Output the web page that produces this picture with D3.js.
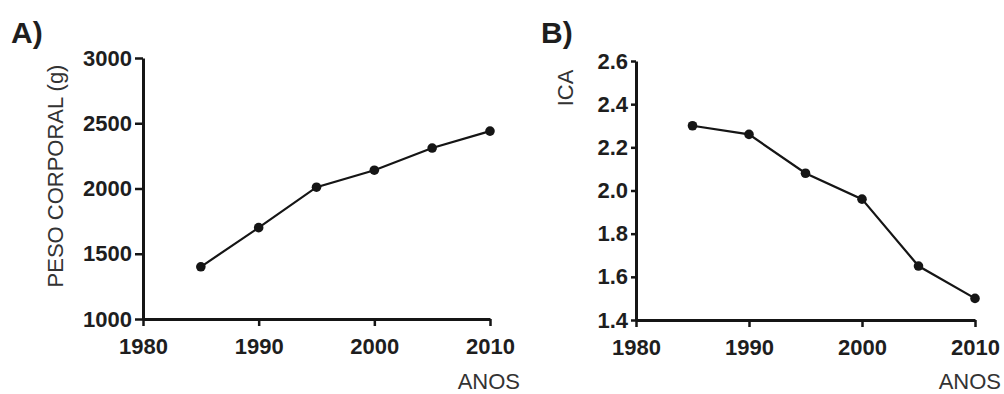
<!DOCTYPE html>
<html><head><meta charset="utf-8">
<script src="https://cdn.jsdelivr.net/npm/d3@7"></script>
<style>
body{margin:0;background:#fff;}
svg{display:block;font-family:"Liberation Sans",Arial,sans-serif;}
</style></head>
<body>
<svg id="chart" width="1004" height="394"></svg>
<script>
const years = [1985, 1990, 1995, 2000, 2005, 2010];
const pesoCorporal = [1400, 1700, 2010, 2140, 2310, 2440];
const ica = [2.30, 2.26, 2.08, 1.96, 1.65, 1.50];
const xTicks = [1980, 1990, 2000, 2010];
const yTicksA = [1000, 1500, 2000, 2500, 3000];
const yTicksB = [1.4, 1.6, 1.8, 2.0, 2.2, 2.4, 2.6];

const svg = d3.select("#chart");
const ink = "#151515";

function panel(opts) {
  const g = svg.append("g");
  const x = d3.scaleLinear().domain([1980, 2010]).range(opts.xr);
  const y = d3.scaleLinear().domain(opts.yd).range(opts.yr);

  const xa = g.append("g").attr("transform", `translate(0,${opts.yr[0]})`)
    .call(d3.axisBottom(x).tickValues(xTicks).tickFormat(d3.format("d"))
      .tickSize(7).tickPadding(12).tickSizeOuter(0));
  const ya = g.append("g").attr("transform", `translate(${opts.xr[0]},0)`)
    .call(d3.axisLeft(y).tickValues(opts.yt).tickFormat(opts.fmt)
      .tickSize(opts.ytick).tickPadding(opts.ypad).tickSizeOuter(0));
  [xa, ya].forEach(a => {
    a.select(".domain").attr("stroke", ink).attr("stroke-width", 3);
    a.selectAll(".tick line").attr("stroke", ink).attr("stroke-width", 2.5);
    a.selectAll(".tick text").attr("fill", "#1e1e1e")
      .style("font-size", "22px").style("font-weight", "bold");
  });

  const line = d3.line().x((d, i) => x(years[i])).y(d => y(d));
  g.append("path").datum(opts.vals).attr("d", line)
    .attr("fill", "none").attr("stroke", ink).attr("stroke-width", 2.2);
  g.selectAll("circle.pt").data(opts.vals).join("circle")
    .attr("cx", (d, i) => x(years[i])).attr("cy", d => y(d))
    .attr("r", 4.8).attr("fill", ink);

  g.append("text").attr("x", opts.letterX).attr("y", 43)
    .style("font-size", "30px").style("font-weight", "bold").attr("fill", "#1e1e1e")
    .text(opts.letter);
  g.append("text").attr("transform", `translate(${opts.ylabX},${opts.ylabY}) rotate(-90)`)
    .attr("text-anchor", "middle").style("font-size", "22px").attr("fill", "#333")
    .text(opts.ylab);
  g.append("text").attr("x", opts.anosX).attr("y", 389)
    .attr("text-anchor", "end").style("font-size", "22px").attr("fill", "#333")
    .text("ANOS");
}

panel({xr: [143, 490], yr: [319, 58], yd: [1000, 3000], yt: yTicksA, fmt: d3.format("d"),
  ytick: 8, ypad: 3, vals: pesoCorporal, letter: "A)", letterX: 11, anosX: 520,
  ylab: "PESO CORPORAL (g)", ylabX: 63, ylabY: 176});
panel({xr: [636, 975], yr: [320, 61], yd: [1.4, 2.6], yt: yTicksB, fmt: d3.format(".1f"),
  ytick: 5, ypad: 3, vals: ica, letter: "B)", letterX: 541, anosX: 1001,
  ylab: "ICA", ylabX: 573, ylabY: 88});
</script>
</body></html>
